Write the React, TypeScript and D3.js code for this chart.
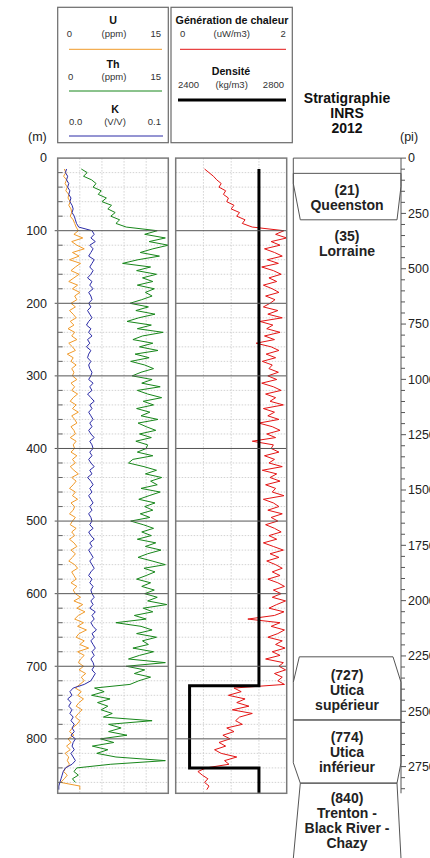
import React from 'react';
import * as d3 from 'd3';

// ---------- DATA ----------
const DEPTH_START = 15; // m, first sample
const DEPTH_STEP = 5; // m, sample spacing
const DEPTH_MAX = 875; // m, bottom of the log tracks

// U (ppm)
const uranium: number[] = [
  0.9,1.1,0.8,1.2,1.0,1.3,1.1,1.5,1.4,1.7,1.5,1.8,1.9,1.7,2.1,2.3,2.5,
  2.8,2.2,3.4,1.9,2.6,3.6,2.0,2.9,1.6,3.1,2.4,1.8,2.9,2.2,1.5,2.7,2.0,3.0,2.3,2.6,
  1.8,2.4,1.6,2.1,2.5,1.7,2.2,1.4,2.3,1.9,2.6,1.5,2.0,2.4,1.3,2.1,1.8,2.5,1.9,2.2,
  2.0,2.6,1.8,2.3,1.9,2.7,2.1,1.7,2.5,2.0,2.8,1.9,2.3,2.6,1.8,2.2,2.4,1.7,2.5,2.1,
  2.3,1.8,2.6,2.0,2.4,1.7,2.2,2.8,1.9,2.5,2.1,1.6,2.4,2.0,2.7,1.8,2.3,2.1,1.6,2.4,
  2.0,1.7,2.5,1.9,2.3,1.6,2.2,2.6,1.8,2.4,2.0,1.5,2.3,2.7,1.9,2.2,2.5,1.8,2.6,2.1,
  2.4,3.1,2.2,3.4,2.6,3.7,2.8,2.3,3.5,2.7,3.9,2.9,2.5,3.6,3.0,4.2,2.7,3.6,3.1,2.8,
  3.5,2.9,3.8,3.2,3.6,3.0,
  2.4,3.2,2.7,3.5,2.9,2.5,3.3,2.8,2.4,3.0,2.6,
  2.0,1.6,2.2,1.4,1.8,1.2,1.7,1.0,1.5,1.3,1.6,
  1.1,0.8,1.3,0.9,0.4,3.0,3.0,
];

// Th (ppm)
const thorium: (number | null)[] = [
  3.2,4.0,3.5,4.6,5.2,4.8,5.9,5.5,6.6,6.0,7.3,6.8,7.8,7.2,8.4,7.9,9.3,
  13.5,11.8,14.6,12.4,15.0,12.9,11.2,13.8,10.9,8.8,12.6,10.7,13.4,11.5,12.9,10.8,13.1,11.9,12.8,11.4,
  9.8,12.3,10.6,13.2,11.0,9.4,12.7,10.8,14.3,11.5,10.2,12.9,11.1,13.6,10.5,12.4,9.9,11.8,13.0,11.3,
  10.1,12.8,11.4,13.9,10.8,12.2,14.1,11.6,13.0,10.7,12.5,11.3,13.6,10.9,12.0,13.3,11.1,12.7,10.6,12.2,
  12.0,10.8,12.9,10.2,9.6,11.7,13.4,11.9,14.1,12.6,13.5,11.3,13.9,12.4,11.0,13.2,11.8,12.9,11.2,12.5,
  9.9,11.6,13.0,11.4,12.7,10.8,13.3,11.9,14.0,12.2,10.9,12.8,14.6,11.7,13.2,12.0,10.7,12.6,11.4,13.1,
  11.8,13.5,12.2,14.8,11.6,12.9,10.4,12.0,7.9,11.3,12.8,10.7,13.4,11.5,12.3,10.2,13.0,11.1,9.6,14.6,
  9.3,11.8,10.4,12.6,11.0,9.8,
  5.0,6.3,4.6,7.1,5.4,6.8,5.9,7.4,6.2,12.8,6.9,
  8.6,6.9,9.4,5.8,7.6,4.7,6.8,5.3,7.9,14.6,7.2,
  2.6,2.2,2.8,2.0,2.4,null,null,
];

// K (V/V)
const potassium: number[] = [
  0.008,0.007,0.009,0.008,0.010,0.009,0.011,0.010,0.012,0.011,0.013,0.014,0.013,0.015,0.016,0.017,0.019,
  0.031,0.033,0.030,0.034,0.029,0.032,0.030,0.028,0.033,0.031,0.029,0.032,0.030,0.027,0.031,0.029,0.032,0.028,0.030,0.031,
  0.028,0.030,0.027,0.029,0.031,0.028,0.026,0.030,0.028,0.031,0.027,0.029,0.026,0.030,0.028,0.027,0.030,0.028,0.029,0.031,
  0.030,0.028,0.032,0.029,0.031,0.027,0.030,0.033,0.029,0.031,0.028,0.030,0.032,0.029,0.031,0.028,0.030,0.033,0.029,0.031,
  0.032,0.029,0.031,0.028,0.030,0.033,0.029,0.031,0.027,0.030,0.032,0.029,0.031,0.028,0.030,0.032,0.029,0.031,0.028,0.030,
  0.031,0.029,0.032,0.028,0.030,0.033,0.029,0.031,0.028,0.030,0.032,0.029,0.031,0.033,0.030,0.028,0.031,0.029,0.032,0.030,
  0.031,0.033,0.030,0.032,0.029,0.034,0.031,0.033,0.030,0.032,0.035,0.031,0.033,0.030,0.032,0.034,0.031,0.033,0.030,0.032,
  0.033,0.031,0.034,0.032,0.030,0.024,
  0.014,0.011,0.013,0.009,0.012,0.010,0.013,0.011,0.014,0.012,0.015,
  0.013,0.015,0.012,0.016,0.014,0.013,0.015,0.012,0.014,0.016,0.013,
  0.007,0.005,0.004,0.003,0.002,0.001,0.001,
];

// Heat generation (uW/m3)
const heat: number[] = [
  0.52,0.60,0.68,0.74,0.82,0.78,0.90,0.86,0.95,0.92,1.05,1.00,1.15,1.10,1.25,1.20,1.38,
  1.95,1.80,2.00,1.72,1.88,1.60,1.78,1.92,1.65,1.85,1.55,1.76,1.90,1.68,1.82,1.58,1.74,1.86,1.62,1.79,
  1.70,1.58,1.84,1.66,1.92,1.52,1.75,1.64,1.88,1.60,1.78,1.45,1.72,1.86,1.63,1.80,1.56,1.74,1.68,1.85,
  1.66,1.82,1.55,1.76,1.90,1.62,1.80,1.70,1.94,1.58,1.78,1.66,1.86,1.50,1.74,1.88,1.64,1.80,1.38,1.76,
  1.72,1.86,1.60,1.78,1.68,1.92,1.56,1.82,1.70,1.88,1.62,1.80,1.74,1.95,1.58,1.76,1.86,1.66,1.92,1.72,
  1.84,1.62,1.78,1.90,1.68,1.82,1.58,1.76,1.94,1.70,1.86,1.64,1.80,1.92,1.74,1.88,1.66,1.84,1.96,1.76,
  1.90,1.74,1.98,1.82,1.68,1.95,1.78,1.30,1.88,1.72,1.96,1.84,1.66,1.92,1.80,1.97,1.74,1.88,1.62,1.94,
  1.86,1.98,1.78,1.92,1.84,1.96,
  1.05,1.18,0.95,1.25,1.10,1.32,1.02,1.38,1.15,1.08,1.20,
  0.92,1.05,0.85,0.98,0.78,0.90,0.70,0.82,1.10,0.88,0.96,
  0.55,0.40,0.48,0.58,0.52,0.60,0.56,
];

// Density (kg/m3): step log
const densityTops = [15, 727, 840];
const densityValues = [2700, 2450, 2700];

const depthTicks = [0, 100, 200, 300, 400, 500, 600, 700, 800];

const stratNames = [
  ['(21)', 'Queenston'],
  ['(35)', 'Lorraine'],
  ['(727)', 'Utica', 'supérieur'],
  ['(774)', 'Utica', 'inférieur'],
  ['(840)', 'Trenton -', 'Black River -', 'Chazy'],
];
const stratLabelDepths = [44, 108, 712, 797, 881];

// ---------- LAYOUT ----------
const W = 430;
const H = 858;
const FONT = "'Liberation Sans', Arial, Helvetica, sans-serif";
const yTop = 158.1;
const yBot = 793.3;
const T1 = { x0: 57.7, x1: 168.3 };
const T2 = { x0: 175.7, x1: 286.7 };
const ST = { x0: 293.3, x1: 401 };

const C_U = '#f09a2a';
const C_TH = '#17861a';
const C_K = '#2b2ba6';
const C_H = '#e31414';

export default function App() {
  const y = d3.scaleLinear().domain([0, DEPTH_MAX]).range([yTop, yBot]);
  const yFt = d3.scaleLinear().domain([0, DEPTH_MAX / 0.3048]).range([yTop, yBot]);
  const xU = d3.scaleLinear().domain([0, 15]).range([T1.x0, T1.x1]);
  const xK = d3.scaleLinear().domain([0, 0.1]).range([T1.x0, T1.x1]);
  const xH = d3.scaleLinear().domain([0, 2]).range([T2.x0, T2.x1]);
  const xD = d3.scaleLinear().domain([2400, 2800]).range([T2.x0, T2.x1]);

  const depthAt = (i: number) => DEPTH_START + i * DEPTH_STEP;
  const mk = (xs: d3.ScaleLinear<number, number>) =>
    d3
      .line<number | null>()
      .defined((v) => v != null)
      .x((v) => xs(v as number))
      .y((_, i) => y(depthAt(i)));

  // density step path
  const densPts: [number, number][] = [];
  densityTops.forEach((top, i) => {
    const bottom = i < densityTops.length - 1 ? densityTops[i + 1] : DEPTH_MAX;
    densPts.push([xD(densityValues[i]), y(top)]);
    densPts.push([xD(densityValues[i]), y(bottom)]);
  });
  const densPath = d3.line()(densPts) || '';

  const minorDepths = d3.range(20, DEPTH_MAX, 20).filter((d) => d % 100 !== 0);
  const ftTicks = d3.range(0, DEPTH_MAX / 0.3048, 50);

  const vGrid1 = d3.range(1, 5).map((i) => T1.x0 + (i * (T1.x1 - T1.x0)) / 5);
  const vGrid2 = d3.range(1, 4).map((i) => T2.x0 + (i * (T2.x1 - T2.x0)) / 4);

  const L = ST.x0;
  const R = ST.x1;
  const poly = (pts: [number, number][], close = true) =>
    'M' + pts.map(([x, d]) => `${x},${y(d)}`).join('L') + (close ? 'Z' : '');

  const gridStyle = { stroke: '#c8c8c8', strokeWidth: 0.8, strokeDasharray: '1.5,1.5' };

  const track = (t: { x0: number; x1: number }, vg: number[], key: string) => (
    <g key={key}>
      {minorDepths.map((d) => (
        <line key={d} x1={t.x0} x2={t.x1} y1={y(d)} y2={y(d)} {...gridStyle} />
      ))}
      {vg.map((x) => (
        <line key={x} x1={x} x2={x} y1={yTop} y2={yBot} {...gridStyle} />
      ))}
    </g>
  );

  const legendSmall = { fontFamily: FONT, fontSize: 9.5, fill: '#333' } as const;
  const legendBold = { fontFamily: FONT, fontSize: 10.7, fontWeight: 700, fill: '#111' } as const;

  return (
    <svg
      width={W}
      height={H}
      style={{ position: 'absolute', left: 0, top: 0, background: '#fff' }}
    >
      <defs>
        <clipPath id="clip1">
          <rect x={T1.x0} y={yTop} width={T1.x1 - T1.x0} height={yBot - yTop} />
        </clipPath>
        <clipPath id="clip2">
          <rect x={T2.x0} y={yTop} width={T2.x1 - T2.x0} height={yBot - yTop} />
        </clipPath>
      </defs>
      <rect x={0} y={0} width={W} height={H} fill="#fff" />

      {/* Legend box 1 */}
      <rect x={57.7} y={7.3} width={110.6} height={135.4} fill="none" stroke="#6a6a6a" strokeWidth={1.2} />
      <text x={113} y={20.7} dy="0.35em" textAnchor="middle" {...legendBold}>U</text>
      <text x={66.7} y={34} dy="0.35em" {...legendSmall}>0</text>
      <text x={114} y={34} dy="0.35em" textAnchor="middle" {...legendSmall}>(ppm)</text>
      <text x={161} y={34} dy="0.35em" textAnchor="end" {...legendSmall}>15</text>
      <line x1={69} x2={162} y1={49.3} y2={49.3} stroke={C_U} strokeWidth={1} />
      <text x={113} y={64} dy="0.35em" textAnchor="middle" {...legendBold}>Th</text>
      <text x={68} y={76.7} dy="0.35em" {...legendSmall}>0</text>
      <text x={114} y={76.7} dy="0.35em" textAnchor="middle" {...legendSmall}>(ppm)</text>
      <text x={161} y={76.7} dy="0.35em" textAnchor="end" {...legendSmall}>15</text>
      <line x1={69} x2={162} y1={91} y2={91} stroke={C_TH} strokeWidth={1} />
      <text x={115} y={109} dy="0.35em" textAnchor="middle" {...legendBold}>K</text>
      <text x={69} y={121.5} dy="0.35em" {...legendSmall}>0.0</text>
      <text x={115} y={121.5} dy="0.35em" textAnchor="middle" {...legendSmall}>(V/V)</text>
      <text x={161} y={121.5} dy="0.35em" textAnchor="end" {...legendSmall}>0.1</text>
      <line x1={69} x2={163} y1={136} y2={136} stroke={C_K} strokeWidth={1} />

      {/* Legend box 2 */}
      <rect x={171} y={7.3} width={121.3} height={135.4} fill="none" stroke="#6a6a6a" strokeWidth={1.2} />
      <text x={232} y={20.7} dy="0.35em" textAnchor="middle" {...legendBold}>Génération de chaleur</text>
      <text x={180} y={34} dy="0.35em" {...legendSmall}>0</text>
      <text x={231.7} y={34} dy="0.35em" textAnchor="middle" {...legendSmall}>(uW/m3)</text>
      <text x={285.7} y={34} dy="0.35em" textAnchor="end" {...legendSmall}>2</text>
      <line x1={180} x2={286} y1={49.3} y2={49.3} stroke={C_H} strokeWidth={1} />
      <text x={231} y={71.3} dy="0.35em" textAnchor="middle" {...legendBold}>Densité</text>
      <text x={178} y={84.7} dy="0.35em" {...legendSmall}>2400</text>
      <text x={231.7} y={84.7} dy="0.35em" textAnchor="middle" {...legendSmall}>(kg/m3)</text>
      <text x={284} y={84.7} dy="0.35em" textAnchor="end" {...legendSmall}>2800</text>
      <line x1={178} x2={286} y1={100} y2={100} stroke="#000" strokeWidth={3} />

      {/* Stratigraphy title */}
      {['Stratigraphie', 'INRS', '2012'].map((t, i) => (
        <text
          key={t}
          x={347}
          y={98 + i * 15}
          dy="0.35em"
          textAnchor="middle"
          fontFamily={FONT}
          fontSize={14}
          fontWeight={700}
          fill="#111"
        >
          {t}
        </text>
      ))}
      <text x={28} y={136.7} dy="0.35em" fontFamily={FONT} fontSize={12.5} fill="#222">(m)</text>
      <text x={400} y={136.7} dy="0.35em" fontFamily={FONT} fontSize={12.5} fill="#222">(pi)</text>

      {/* Track grids */}
      {track(T1, vGrid1, 't1')}
      {track(T2, vGrid2, 't2')}

      {/* Track 1 curves */}
      <g clipPath="url(#clip1)" fill="none" strokeWidth={1}>
        <path d={mk(xU)(uranium) || ''} stroke={C_U} />
        <path d={mk(xU)(thorium) || ''} stroke={C_TH} />
        <path d={mk(xK)(potassium) || ''} stroke={C_K} />
      </g>

      {/* Track 2 curves */}
      <g clipPath="url(#clip2)" fill="none">
        <path d={mk(xH)(heat) || ''} stroke={C_H} strokeWidth={1} />
        <path d={densPath} stroke="#000" strokeWidth={3} />
      </g>

      {/* Major depth lines */}
      {depthTicks.filter((d) => d > 0).map((d) => (
        <g key={d}>
          <line x1={T1.x0 - 3} x2={T1.x1} y1={y(d)} y2={y(d)} stroke="#555" strokeWidth={1} />
          <line x1={T2.x0} x2={T2.x1} y1={y(d)} y2={y(d)} stroke="#555" strokeWidth={1} />
        </g>
      ))}
      {/* Minor ticks on left axis */}
      {minorDepths.map((d) => (
        <line key={d} x1={T1.x0} x2={T1.x0 + 5} y1={y(d)} y2={y(d)} stroke="#666" strokeWidth={1} />
      ))}

      {/* Track borders */}
      <rect x={T1.x0} y={yTop} width={T1.x1 - T1.x0} height={yBot - yTop} fill="none" stroke="#7a7a7a" strokeWidth={1.5} />
      <rect x={T2.x0} y={yTop} width={T2.x1 - T2.x0} height={yBot - yTop} fill="none" stroke="#7a7a7a" strokeWidth={1.5} />

      {/* Left axis labels */}
      {depthTicks.map((d) => (
        <text key={d} x={47} y={y(d)} dy="0.35em" textAnchor="end" fontFamily={FONT} fontSize={12.5} fill="#222">
          {d}
        </text>
      ))}

      {/* Stratigraphy column */}
      <g fill="none" stroke="#555" strokeWidth={1}>
        <line x1={L} x2={R} y1={yTop} y2={yTop} />
        <line x1={L} x2={L} y1={yTop} y2={y(722)} />
        <path d={poly([[L, 21], [R, 21], [R, 39], [R - 4, 85], [L + 7, 85], [L, 35]])} />
        <path d={poly([[L + 6, 687], [R - 8, 687], [R, 722], [R, 774], [L, 774], [L, 722]])} />
        <path d={poly([[L, 774], [R, 774], [R, 833], [R - 4, 861], [L + 7, 861], [L, 833]])} />
        <path d={poly([[L, 965], [L + 7, 861], [R - 4, 861], [R, 965]], false)} />
      </g>
      {stratNames.map((lines, i) =>
        lines.map((t, j) => (
          <text
            key={i + '-' + j}
            x={347}
            y={y(stratLabelDepths[i]) + j * 15}
            dy="0.35em"
            textAnchor="middle"
            fontFamily={FONT}
            fontSize={14}
            fontWeight={700}
            fill="#222"
          >
            {t}
          </text>
        ))
      )}

      {/* Right axis (feet) */}
      <line x1={R} x2={R} y1={yTop} y2={yBot} stroke="#555" strokeWidth={1} />
      {ftTicks.map((f) => (
        <line key={f} x1={R} x2={R + (f % 250 === 0 ? 5 : 4)} y1={yFt(f)} y2={yFt(f)} stroke="#555" strokeWidth={1} />
      ))}
      {ftTicks.filter((f) => f % 250 === 0).map((f) => (
        <text key={f} x={408} y={yFt(f)} dy="0.35em" fontFamily={FONT} fontSize={12.5} fill="#222">
          {f}
        </text>
      ))}
    </svg>
  );
}
